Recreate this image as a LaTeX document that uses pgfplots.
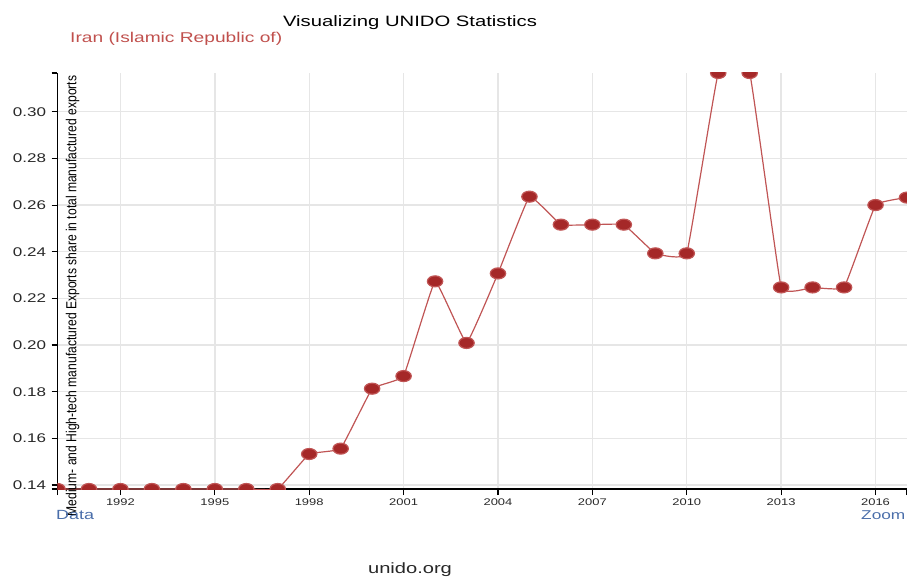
\documentclass[border=0pt]{standalone}
\usepackage{pgfplots}
\pgfplotsset{compat=1.18}
\usepackage{fontspec}
\setmainfont{Liberation Sans}[FakeStretch=1.35]
\newfontfamily\plainsans{Liberation Sans}
\definecolor{markred}{RGB}{165,40,40}
\definecolor{linered}{RGB}{192,85,85}
\definecolor{subred}{RGB}{192,80,77}
\definecolor{gridgray}{RGB}{230,230,230}
\definecolor{linkblue}{RGB}{74,110,170}
\definecolor{textgray}{RGB}{40,40,40}
\begin{document}
\begin{tikzpicture}[x=1pt,y=-1pt]
\path[use as bounding box] (0,0) rectangle (907,577);
\begin{axis}[
  at={(57.5pt,-489pt)}, anchor=south west,
  width=849.5pt, height=416pt, scale only axis,
  xmin=1990, xmax=2017, ymin=0.1383, ymax=0.3166,
  axis x line*=bottom, axis y line*=left,
  axis line style={-, black, line width=1.2pt},
  xtick={1992,1995,...,2016},
  ytick={0.14,0.16,...,0.30},
  extra x ticks={1990,2017}, extra x tick labels={},
  extra y ticks={0.1383,0.3166}, extra y tick labels={},
  extra tick style={grid=none},
  tick align=outside, major tick length=6pt,
  tick style={black, line width=1.1pt},
  grid=major,
  grid style={gridgray, line width=1.4pt},
  /pgf/number format/assume math mode=true,
  x tick label style={font=\fontsize{9.6}{10}\selectfont, /pgf/number format/1000 sep={}, text=textgray},
  y tick label style={font=\fontsize{12.6}{13}\selectfont, /pgf/number format/fixed, /pgf/number format/fixed zerofill, /pgf/number format/precision=2, text=textgray, xshift=-2pt},
  clip marker paths=true,
]
\addplot[color=linered, line width=1.2pt, smooth, tension=0.15,
  mark=*, mark size=5.5pt,
  mark options={fill=markred, draw=none, xscale=1.4}]
coordinates {
(1990,0.1383) (1991,0.1383) (1992,0.1383) (1993,0.1383) (1994,0.1383)
(1995,0.1383) (1996,0.1383) (1997,0.1383) (1998,0.1533) (1999,0.1556)
(2000,0.1813) (2001,0.1867) (2002,0.2273) (2003,0.2009) (2004,0.2307)
(2005,0.2636) (2006,0.2516) (2007,0.2516) (2008,0.2516) (2009,0.2393)
(2010,0.2393) (2011,0.3166) (2012,0.3166) (2013,0.2247) (2014,0.2247)
(2015,0.2247) (2016,0.2600) (2017,0.2632)
};
\end{axis}
\node[anchor=center, rotate=90, inner sep=0pt] at (72.5,296)
  {\scalebox{1}[1.2]{\plainsans\fontsize{12.1}{13}\selectfont Medium- and High-tech manufactured Exports share in total manufactured exports}};
\node[anchor=base, inner sep=0pt, text=black] at (410,27)
  {\fontsize{15}{16}\selectfont Visualizing UNIDO Statistics};
\node[anchor=base west, inner sep=0pt, text=subred] at (70,43)
  {\fontsize{14.2}{15}\selectfont Iran (Islamic Republic of)};
\node[anchor=base west, inner sep=0pt, text=linkblue] at (56,519)
  {\fontsize{13.3}{14}\selectfont Data};
\node[anchor=base west, inner sep=0pt, text=linkblue] at (861,519)
  {\fontsize{12.8}{14}\selectfont Zoom};
\node[anchor=base, inner sep=0pt, text=textgray] at (410,573)
  {\fontsize{14.9}{15}\selectfont unido.org};
\end{tikzpicture}
\end{document}
